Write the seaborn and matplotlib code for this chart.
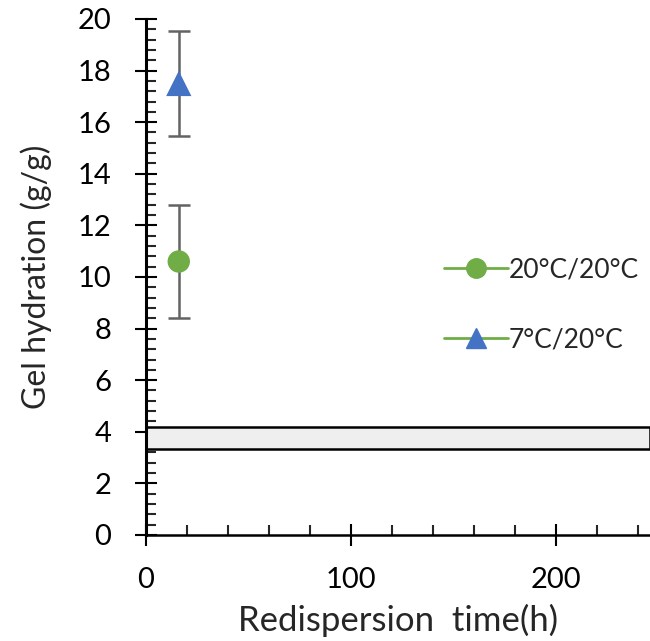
import numpy as np
import matplotlib
matplotlib.use("Agg")
import matplotlib.pyplot as plt
import seaborn as sns
from matplotlib.lines import Line2D
from matplotlib.ticker import MultipleLocator

# data
series = ["20°C/20°C", "7°C/20°C"]
time_h = [16, 16]
hydration = [10.6, 17.5]
hydration_err = [2.2, 2.05]
band_low = 3.32
band_high = 4.2

green = "#70ad47"
blue = "#4472c4"

sns.set_style("ticks")
plt.rcParams["font.family"] = ["Lato", "DejaVu Sans"]

fig = plt.figure(figsize=(6.5, 6.41), dpi=100)
ax = fig.add_axes([0.2246, 0.1654, 0.7754, 0.805])

# shaded band
ax.axhspan(band_low, band_high, facecolor="#efefef", edgecolor="black", linewidth=1.8, zorder=1)

# error bars
ax.errorbar(time_h, hydration, yerr=hydration_err, fmt="none", ecolor="#636363",
            elinewidth=1.8, capsize=8, capthick=1.8, zorder=2)

sns.scatterplot(x=[time_h[0]], y=[hydration[0]], ax=ax, marker="o", s=260,
                color=green, edgecolor="none", zorder=3, legend=False)
sns.scatterplot(x=[time_h[1]], y=[hydration[1]], ax=ax, marker="^", s=330,
                color=blue, edgecolor="none", zorder=3, legend=False)

ax.set_xlim(0, 246)
ax.set_ylim(0, 20)
ax.xaxis.set_major_locator(MultipleLocator(100))
ax.xaxis.set_minor_locator(MultipleLocator(20))
ax.yaxis.set_major_locator(MultipleLocator(2))
ax.yaxis.set_minor_locator(MultipleLocator(0.4))

ax.tick_params(axis="both", which="major", direction="inout", length=16, width=1.5,
               labelsize=21, colors="black")
ax.tick_params(axis="y", which="major", pad=17)
ax.tick_params(axis="x", which="major", pad=15)
ax.tick_params(axis="both", which="minor", direction="in", length=7, width=1.5)

sns.despine(ax=ax, top=True, right=True)
ax.spines["left"].set_linewidth(2.2)
ax.spines["bottom"].set_linewidth(1.8)
ax.spines["left"].set_color("black")
ax.spines["bottom"].set_color("black")

ax.set_xlabel("Redispersion  time(h)", fontsize=25, labelpad=8)
ax.set_ylabel("Gel hydration (g/g)", fontsize=23, labelpad=18)

handles = [
    Line2D([0], [0], color=green, lw=2, marker="o", markersize=14, markerfacecolor=green,
           markeredgecolor=green),
    Line2D([0], [0], color=green, lw=2, marker="^", markersize=15, markerfacecolor=blue,
           markeredgecolor=blue),
]
ax.legend(handles, series, loc="center left", bbox_to_anchor=(0.592, 0.446), frameon=False,
          fontsize=19, labelspacing=1.68, handlelength=2.4, handletextpad=0.05,
          borderpad=0, borderaxespad=0)

fig.savefig("out.png", dpi=100)
